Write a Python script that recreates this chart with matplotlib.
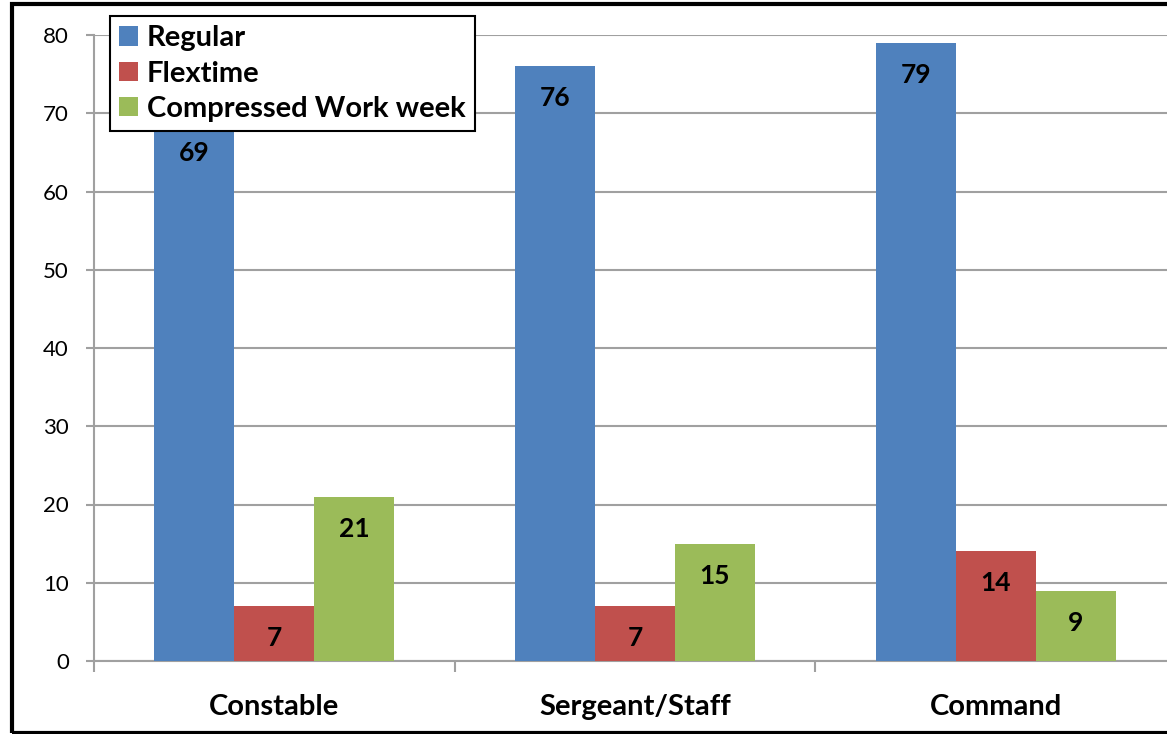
import matplotlib
matplotlib.use("Agg")
import matplotlib.pyplot as plt
import numpy as np
from matplotlib.patches import Rectangle

categories = ["Constable", "Sergeant/Staff", "Command"]
series_names = ["Regular", "Flextime", "Compressed Work week"]
regular = [69, 76, 79]
flextime = [7, 7, 14]
compressed = [21, 15, 9]
colors = ["#4F81BD", "#C0504D", "#9BBB59"]
yticks = [0, 10, 20, 30, 40, 50, 60, 70, 80]

plt.rcParams['font.family'] = ['Lato', 'DejaVu Sans']

W, H = 1167, 734
fig = plt.figure(figsize=(W / 100, H / 100), dpi=100)
# axes: left x=94, right x=1176 (beyond figure), bottom y=661, top y=35
ax = fig.add_axes([94 / W, 1 - 661 / H, (1176 - 94) / W, (661 - 35) / H])

x = np.arange(len(categories))
bw = 80 / 360.7
data = [regular, flextime, compressed]
for i, (vals, name, c) in enumerate(zip(data, series_names, colors)):
    bars = ax.bar(x + (i - 1) * bw, vals, bw, color=c, label=name, zorder=3)
    for b, v in zip(bars, vals):
        ax.annotate(str(v), (b.get_x() + b.get_width() / 2, v),
                    xytext=(0, -23), textcoords='offset points',
                    ha='center', va='center', fontsize=19, fontweight='bold',
                    color='black', zorder=4)

ax.set_xlim(-0.5, 2.5)
ax.set_ylim(0, 80)
ax.set_yticks(yticks)
ax.set_yticklabels([str(t) for t in yticks], fontsize=16)
ax.yaxis.grid(True, color='#A0A0A0', linewidth=1.5, zorder=0)
ax.set_axisbelow(True)

ax.set_xticks(x)
ax.set_xticklabels(categories, fontsize=21, fontweight='bold')
ax.tick_params(axis='x', length=0, pad=24)
ax.set_xticks(np.arange(-0.5, 3.0, 1.0), minor=True)
ax.tick_params(axis='x', which='minor', length=8, width=1.5, color='#A0A0A0', direction='out')
ax.tick_params(axis='y', length=6, width=1.5, color='#A0A0A0', pad=12)

for s in ['top', 'right']:
    ax.spines[s].set_visible(False)
ax.spines['left'].set_color('#A0A0A0')
ax.spines['left'].set_linewidth(1.5)
ax.spines['bottom'].set_color('#A0A0A0')
ax.spines['bottom'].set_linewidth(1.5)

leg = ax.legend(loc='upper left', bbox_to_anchor=((110 - 94) / (1176 - 94), 1 + (35 - 16) / (661 - 35)),
                prop={'weight': 'bold', 'size': 21}, frameon=True, fancybox=False,
                edgecolor='black', framealpha=1, borderpad=0.32, labelspacing=0.32,
                handlelength=0.65, handleheight=0.65, handletextpad=0.3, borderaxespad=0)
leg.get_frame().set_linewidth(1.5)

fig.patches.append(Rectangle((11.5 / W, 1.5 / H), 1.2, 1 - 5.5 / H, transform=fig.transFigure,
                             fill=False, edgecolor='black', linewidth=3, zorder=10))

fig.savefig("out.png", dpi=100)
